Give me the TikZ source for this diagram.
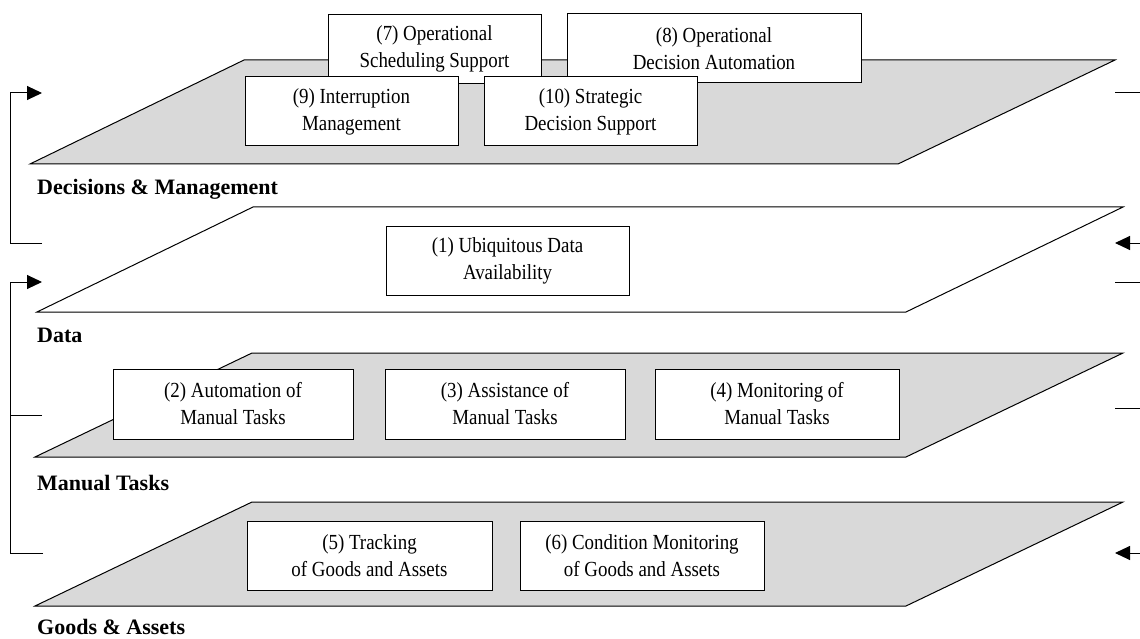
\documentclass[tikz,border=0pt]{standalone}
\usepackage{fontspec}
\setmainfont{Liberation Serif}
\newfontfamily\boxfont[FakeStretch=0.88]{Liberation Serif}
\usetikzlibrary{arrows.meta}
\definecolor{planegray}{RGB}{217,217,217}
\begin{document}
\begin{tikzpicture}[x=1pt,y=-1pt]
	\tikzset{plane/.style={draw=black, line width=1pt, fill=planegray}}
	\tikzset{boxnode/.style={draw=black, fill=white, line width=1pt, align=center,
				inner sep=0pt, minimum width=213pt, minimum height=69pt,
				font=\boxfont\fontsize{21.5}{27}\selectfont}}
	\tikzset{layerlabel/.style={anchor=base west, inner sep=0pt,
				font=\fontsize{22}{26}\selectfont\bfseries}}
	\tikzset{fbline/.style={line width=1pt}}
	\tikzset{fbarrow/.style={line width=1pt, -{Triangle[length=15pt, width=14pt]}}}

	\useasboundingbox (0,0) rectangle (1140,639);

	% decisions & management
	\draw[plane] (30,164) -- (898,164) -- (1115,60) -- (244,60) -- cycle;
	\node[boxnode] (b7) at (434.5,49) {(7) Operational\\Scheduling Support};
	\node[boxnode, minimum width=294pt] (b8) at (714,48.5) {(8) Operational\\Decision Automation};
	\node[boxnode] (b9) at (351.5,111.5) {(9) Interruption\\Management};
	\node[boxnode] (b10) at (590.5,111.5) {(10) Strategic\\Decision Support};
	\node[layerlabel] (l1) at (37,195) {Decisions \& Management};

	% data
	\draw[plane, fill=white] (37,312) -- (906,312) -- (1123,207) -- (253,207) -- cycle;
	\node[boxnode, minimum width=243pt] (b1) at (507.5,260.5) {(1) Ubiquitous Data\\Availability};
	\node[layerlabel] (l2) at (37,342) {Data};

	% manual tasks
	\draw[plane] (35,457) -- (906,457) -- (1123,353) -- (252,353) -- cycle;
	\node[boxnode, minimum width=240pt, minimum height=70pt] (b2) at (233,404) {(2) Automation of\\Manual Tasks};
	\node[boxnode, minimum width=240pt, minimum height=70pt] (b3) at (505,404) {(3) Assistance of\\Manual Tasks};
	\node[boxnode, minimum width=244pt, minimum height=70pt] (b4) at (777,404) {(4) Monitoring of\\Manual Tasks};
	\node[layerlabel] (l3) at (37,490) {Manual Tasks};

	% goods & assets
	\draw[plane] (35,606) -- (906,606) -- (1123,502) -- (252,502) -- cycle;
	\node[boxnode, minimum width=245pt] (b5) at (369.5,555.5) {(5) Tracking\\of Goods and Assets};
	\node[boxnode, minimum width=244pt] (b6) at (642,555.5) {(6) Condition Monitoring\\of Goods and Assets};
	\node[layerlabel] (l4) at (37,634) {Goods \& Assets};

	% feedback brackets, left
	\coordinate (la1) at (42,93);
	\coordinate (la2) at (42,243);
	\coordinate (lb1) at (42,282);
	\coordinate (lb2) at (42,415);
	\coordinate (lb3) at (43,553);
	\draw[fbarrow] (la2) -- ++(-32,0) |- (la1);
	\draw[fbarrow] (lb3) -- ++(-33,0) |- (lb1);
	\draw[fbline] (lb2) -- ++(-32,0);

	% feedback brackets, right (cut at the edge)
	\coordinate (ra1) at (1115,93);
	\coordinate (ra2) at (1115,243);
	\coordinate (rb1) at (1115,282);
	\coordinate (rb2) at (1115,408);
	\coordinate (rb3) at (1115,553);
	\draw[fbline] (ra1) -- ++(25,0);
	\draw[fbarrow] ([xshift=25pt]ra2) -- (ra2);
	\draw[fbline] (rb1) -- ++(25,0);
	\draw[fbline] (rb2) -- ++(25,0);
	\draw[fbarrow] ([xshift=25pt]rb3) -- (rb3);
\end{tikzpicture}
\end{document}
